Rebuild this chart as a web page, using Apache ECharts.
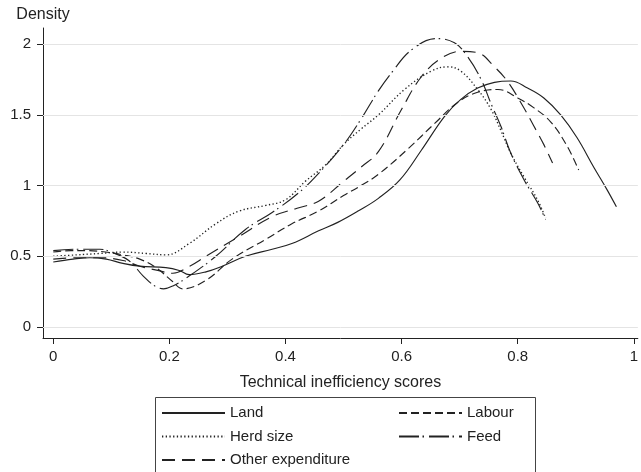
<!DOCTYPE html>
<html><head><meta charset="utf-8">
<script src="https://cdn.jsdelivr.net/npm/echarts@6/dist/echarts.min.js"></script>
<style>html,body{margin:0;padding:0;background:#fff}#c{width:641px;height:472px}</style>
</head><body><div id="c"></div>
<script>
const xTicks = [0, 0.2, 0.4, 0.6, 0.8, 1];
const yTicks = [0, 0.5, 1, 1.5, 2];
const seriesNames = ['Land', 'Labour', 'Herd size', 'Feed', 'Other expenditure'];

const landX = [0, 0.034, 0.063, 0.091, 0.12, 0.149, 0.194, 0.217, 0.234, 0.263, 0.291, 0.331, 0.377, 0.411, 0.457, 0.49, 0.525, 0.56, 0.597, 0.634, 0.674, 0.702, 0.731, 0.76, 0.788, 0.817, 0.845, 0.874, 0.902, 0.931, 0.954, 0.97];
const landY = [0.46, 0.48, 0.49, 0.48, 0.45, 0.43, 0.42, 0.40, 0.37, 0.39, 0.43, 0.50, 0.55, 0.59, 0.68, 0.74, 0.82, 0.91, 1.04, 1.25, 1.49, 1.61, 1.69, 1.73, 1.74, 1.69, 1.62, 1.50, 1.34, 1.13, 0.97, 0.85];

const labourX = [0, 0.03, 0.06, 0.09, 0.12, 0.149, 0.177, 0.206, 0.223, 0.263, 0.308, 0.366, 0.411, 0.457, 0.5, 0.53, 0.56, 0.611, 0.657, 0.697, 0.731, 0.766, 0.80, 0.828, 0.857, 0.885, 0.905];
const labourY = [0.53, 0.54, 0.54, 0.53, 0.51, 0.48, 0.42, 0.32, 0.27, 0.33, 0.48, 0.62, 0.73, 0.82, 0.93, 1.00, 1.08, 1.26, 1.44, 1.59, 1.66, 1.68, 1.62, 1.55, 1.45, 1.28, 1.11];

const herdX = [0, 0.04, 0.08, 0.12, 0.16, 0.194, 0.234, 0.28, 0.32, 0.366, 0.40, 0.434, 0.47, 0.5, 0.53, 0.56, 0.605, 0.651, 0.68, 0.702, 0.731, 0.754, 0.771, 0.788, 0.811, 0.834, 0.848];
const herdY = [0.50, 0.51, 0.52, 0.53, 0.52, 0.51, 0.59, 0.73, 0.82, 0.86, 0.90, 1.03, 1.15, 1.29, 1.40, 1.50, 1.68, 1.81, 1.84, 1.81, 1.68, 1.54, 1.39, 1.23, 1.06, 0.90, 0.77];

const feedX = [0, 0.04, 0.08, 0.10, 0.13, 0.155, 0.175, 0.19, 0.206, 0.234, 0.28, 0.331, 0.377, 0.423, 0.46, 0.5, 0.53, 0.56, 0.583, 0.617, 0.66, 0.691, 0.714, 0.737, 0.754, 0.771, 0.788, 0.811, 0.834, 0.848];
const feedY = [0.54, 0.55, 0.55, 0.53, 0.47, 0.36, 0.29, 0.27, 0.29, 0.36, 0.50, 0.69, 0.81, 0.95, 1.10, 1.29, 1.47, 1.67, 1.80, 1.96, 2.04, 2.01, 1.91, 1.75, 1.58, 1.42, 1.23, 1.04, 0.88, 0.76];

const otherX = [0, 0.04, 0.08, 0.12, 0.149, 0.18, 0.206, 0.235, 0.263, 0.32, 0.377, 0.42, 0.457, 0.5, 0.53, 0.56, 0.60, 0.634, 0.668, 0.702, 0.731, 0.76, 0.782, 0.805, 0.828, 0.845, 0.86];
const otherY = [0.48, 0.49, 0.49, 0.47, 0.43, 0.40, 0.38, 0.43, 0.50, 0.64, 0.78, 0.84, 0.89, 1.03, 1.13, 1.24, 1.54, 1.77, 1.90, 1.95, 1.94, 1.84, 1.74, 1.59, 1.42, 1.29, 1.16];

const FONT = 'Liberation Sans';
const INK = '#222';
function pairs(xs, ys) { return xs.map((x, i) => [x, ys[i]]); }
function curve(name, xs, ys, dash, w) {
  return {
    name: name, type: 'line', data: pairs(xs, ys), symbol: 'none', smooth: 0.4,
    lineStyle: { color: INK, width: w || 1.15, type: dash, cap: 'butt' },
    itemStyle: { color: INK }, z: 3
  };
}

const chart = echarts.init(document.getElementById('c'), null, { renderer: 'canvas' });
const series = [
  curve(seriesNames[0], landX, landY, 'solid'),
  curve(seriesNames[1], labourX, labourY, [8, 4]),
  curve(seriesNames[2], herdX, herdY, [1.3, 2.4], 1.35),
  curve(seriesNames[3], feedX, feedY, [20, 3.5, 1.5, 5]),
  curve(seriesNames[4], otherX, otherY, [13, 7])
];
series.push({
  type: 'line', data: [], silent: true, z: 1,
  markLine: {
    silent: true, symbol: ['none', 'none'], label: { show: false },
    lineStyle: { color: '#e4e4e4', width: 1, type: 'solid' },
    emphasis: { disabled: true },
    data: yTicks.map(v => ({ yAxis: v }))
  }
});

const legendCommon = {
  orient: 'vertical', padding: 0, itemWidth: 63, itemHeight: 14, itemGap: 8.5,
  selectedMode: false,
  itemStyle: { opacity: 0, borderWidth: 0 },
  textStyle: { fontFamily: FONT, fontSize: 15, color: INK, lineHeight: 15 }
};

chart.setOption({
  animation: false,
  backgroundColor: '#fff',
  textStyle: { fontFamily: FONT },
  grid: { left: 43, right: 0, top: 28, bottom: 134, containLabel: false },
  xAxis: {
    type: 'value', min: -0.0177, max: 1.0069,
    name: 'Technical inefficiency scores', nameLocation: 'middle', nameGap: 37,
    nameTextStyle: { fontFamily: FONT, fontSize: 16, color: INK },
    axisLine: { show: true, onZero: false, lineStyle: { color: INK, width: 1 } },
    axisTick: { show: true, length: 6, customValues: xTicks, lineStyle: { color: INK } },
    axisLabel: { customValues: xTicks, margin: 11, fontFamily: FONT, fontSize: 15, color: INK,
      formatter: v => String(v) },
    splitLine: { show: false }
  },
  yAxis: {
    type: 'value', min: -0.078, max: 2.115,
    name: 'Density', nameLocation: 'end', nameGap: 5,
    nameTextStyle: { fontFamily: FONT, fontSize: 16, color: INK },
    axisLine: { show: true, onZero: false, lineStyle: { color: INK, width: 1 } },
    axisTick: { show: true, length: 6, customValues: yTicks, lineStyle: { color: INK } },
    axisLabel: { customValues: yTicks, margin: 12, fontFamily: FONT, fontSize: 15, color: INK,
      formatter: v => String(v) },
    splitLine: { show: false }
  },
  legend: [
    Object.assign({}, legendCommon, { left: 161, top: 405.5, data: [seriesNames[0], seriesNames[2], seriesNames[4]] }),
    Object.assign({}, legendCommon, { left: 398, top: 405.5, data: [seriesNames[1], seriesNames[3]] })
  ],
  graphic: [{
    type: 'rect', silent: true, z: 0,
    shape: { x: 155.5, y: 397.5, width: 380, height: 100 },
    style: { fill: 'none', stroke: '#444', lineWidth: 1 }
  }],
  series: series
});
</script></body></html>
